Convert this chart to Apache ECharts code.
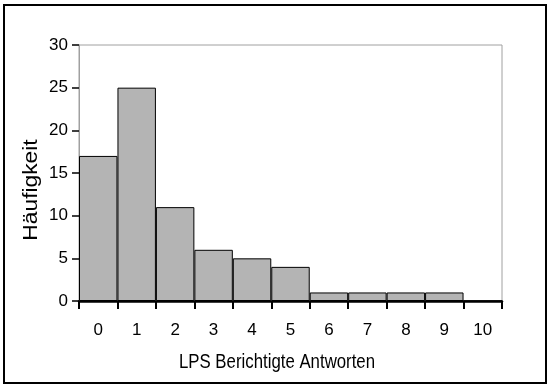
<!DOCTYPE html>
<html>
<head>
<meta charset="utf-8">
<script src="https://cdn.jsdelivr.net/npm/echarts@6/dist/echarts.min.js"></script>
<style>
  html, body { margin: 0; padding: 0; background: #fff; }
  #chart { width: 551px; height: 388px; }
</style>
</head>
<body>
<div id="chart"></div>
<script>
// Frequency distribution of corrected LPS answers
const categories = ['0', '1', '2', '3', '4', '5', '6', '7', '8', '9', '10'];
const frequencies = [17, 25, 11, 6, 5, 4, 1, 1, 1, 1, 0];
const yTicks = { min: 0, max: 30, interval: 5 };
const xTitle = 'LPS Berichtigte Antworten';
const yTitle = 'Häufigkeit';

const FONT = '"Liberation Sans", Arial, sans-serif';

const chart = echarts.init(document.getElementById('chart'), null, { renderer: 'canvas' });
chart.setOption({
  animation: false,
  backgroundColor: '#fff',
  textStyle: { fontFamily: FONT, color: '#000' },
  graphic: [
    {
      type: 'rect',
      shape: { x: 4, y: 5, width: 542, height: 378 },
      style: { fill: 'none', stroke: '#000', lineWidth: 2 },
      silent: true
    },
    {
      // axis titles in a narrow face
      type: 'text',
      x: 277, y: 362,
      scaleX: 0.84,
      style: {
        text: xTitle, fill: '#000',
        font: '20px "Liberation Sans", Arial, sans-serif',
        align: 'center', verticalAlign: 'middle'
      },
      silent: true
    },
    {
      type: 'text',
      x: 31, y: 190,
      rotation: Math.PI / 2,
      scaleX: 1.14,
      style: {
        text: yTitle, fill: '#000',
        font: '20px "Liberation Sans", Arial, sans-serif',
        align: 'center', verticalAlign: 'middle'
      },
      silent: true
    }
  ],
  grid: {
    left: 79, right: 49, top: 45, bottom: 87,
    show: true, borderColor: '#a0a0a0', borderWidth: 1, backgroundColor: 'transparent'
  },
  xAxis: {
    type: 'category',
    data: categories,
    boundaryGap: true,
    axisLine: { lineStyle: { color: '#000', width: 2.5 } },
    axisTick: { show: true, length: 8, lineStyle: { color: '#000', width: 2 } },
    axisLabel: { fontFamily: FONT, fontSize: 17, color: '#000', margin: 21 },
    splitLine: { show: false }
  },
  yAxis: {
    type: 'value',
    min: yTicks.min, max: yTicks.max, interval: yTicks.interval,
    axisLine: { show: true, lineStyle: { color: '#a0a0a0', width: 1 } },
    axisTick: { show: true, length: 7, lineStyle: { color: '#000', width: 1.5 } },
    axisLabel: { fontFamily: FONT, fontSize: 17, color: '#000', margin: 11 },
    splitLine: { show: false }
  },
  series: [{
    type: 'bar',
    data: frequencies,
    barCategoryGap: '0%',
    itemStyle: { color: '#b4b4b4', borderColor: '#000', borderWidth: 1 }
  }]
});
</script>
</body>
</html>
